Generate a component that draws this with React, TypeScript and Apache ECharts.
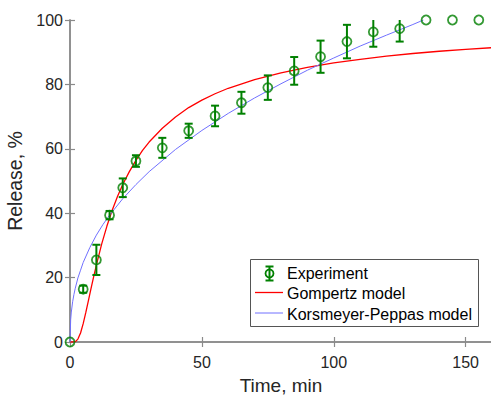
import React, { useEffect, useRef } from "react";
import * as echarts from "echarts";

const expTime = [0, 5, 10, 15, 20, 25, 35, 45, 55, 65, 75, 85, 95, 105, 115, 125, 135, 145, 155];
const expRelease = [0, 16.4, 25.5, 39.4, 47.9, 56.2, 60.3, 65.6, 70.2, 74.3, 79.0, 84.2, 88.6, 93.3, 96.3, 97.3, 100, 100, 100];
const expError = [0, 1.1, 4.7, 1.3, 2.9, 1.8, 3.1, 2.2, 3.2, 3.4, 3.8, 4.3, 5.0, 5.2, 4.6, 4.0, 0, 0, 0];

const gompTime = [0, 1, 2, 3, 4, 5, 6, 7, 8, 9, 10, 12, 14, 16, 18, 20, 22.5, 25, 27.5, 30, 35, 40, 45, 50, 55, 60, 70, 80, 90, 100, 110, 120, 130, 140, 150, 160];
const gompRelease = [0, 0, 0.1, 0.9, 2.8, 5.7, 9.2, 12.9, 16.7, 20.4, 23.9, 30.4, 36.0, 40.9, 45.2, 48.9, 52.9, 56.4, 59.5, 62.1, 66.4, 69.9, 72.8, 75.1, 77.1, 78.8, 81.5, 83.6, 85.3, 86.7, 87.8, 88.8, 89.6, 90.3, 90.9, 91.4];

const kpTime = [0, 0.25, 0.5, 1, 1.5, 2, 3, 4, 5, 7.5, 10, 12.5, 15, 20, 25, 30, 40, 50, 60, 70, 80, 90, 100, 110, 120, 130, 134];
const kpRelease = [0, 6.9, 9.3, 12.5, 14.8, 16.7, 19.9, 22.3, 24.7, 29.3, 33.2, 36.5, 39.4, 44.5, 48.9, 52.9, 59.8, 65.7, 71.0, 75.8, 80.2, 84.4, 88.2, 91.9, 95.3, 98.6, 100];

const xTicks = { min: 0, max: 160, interval: 50 };
const yTicks = { min: 0, max: 100, interval: 20 };

const GREEN = "#008000";
const AXIS = "#262626";
const FRAME = "#8a8a8a";
const FONT = "Liberation Sans, Arial, sans-serif";

export default function App() {
  const ref = useRef<HTMLDivElement>(null);
  useEffect(() => {
    if (!ref.current) return;
    const chart = echarts.init(ref.current, undefined, { renderer: "svg" });
    const expData = expTime.map((t, i) => [t, expRelease[i], expError[i]]);
    const axisCommon = {
      type: "value" as const,
      splitLine: { show: false },
      axisLine: { show: true, lineStyle: { color: FRAME, width: 1.5 } },
      axisTick: { show: true, inside: true, length: 5, lineStyle: { color: FRAME, width: 1.2 } },
    };
    chart.setOption({
      animation: false,
      backgroundColor: "#fff",
      grid: { left: 70, top: 20, width: 422, height: 322, containLabel: false, outerBoundsMode: "none" },
      xAxis: [
        {
          ...axisCommon,
          position: "bottom",
          ...xTicks,
          name: "Time, min",
          nameLocation: "middle",
          nameGap: 34,
          nameTextStyle: { fontSize: 19, lineHeight: 19, color: AXIS, fontFamily: FONT },
          axisLabel: { fontSize: 16, color: AXIS, fontFamily: FONT, margin: 12, showMaxLabel: false },
        },
        {
          ...axisCommon,
          position: "top",
          ...xTicks,
          axisLabel: { show: false },
        },
      ],
      yAxis: [
        {
          ...axisCommon,
          position: "left",
          ...yTicks,
          name: "Release, %",
          nameLocation: "middle",
          nameGap: 35,
          nameTextStyle: { fontSize: 19.5, color: AXIS, fontFamily: FONT },
          axisLabel: { fontSize: 16, color: AXIS, fontFamily: FONT, margin: 7 },
        },
        {
          ...axisCommon,
          position: "right",
          ...yTicks,
          axisLabel: { show: false },
        },
      ],
      series: [
        {
          name: "Gompertz model",
          type: "line",
          data: gompTime.map((t, i) => [t, gompRelease[i]]),
          showSymbol: false,
          symbol: "none",
          smooth: false,
          lineStyle: { color: "#ff0000", width: 1.3 },
          z: 2,
        },
        {
          name: "Korsmeyer-Peppas model",
          type: "line",
          data: kpTime.map((t, i) => [t, kpRelease[i]]),
          showSymbol: false,
          symbol: "none",
          smooth: false,
          lineStyle: { color: "#7070ff", width: 1 },
          z: 2,
        },
        {
          name: "ExperimentErr",
          type: "custom",
          clip: true,
          data: expData,
          z: 3,
          renderItem: (params: any, api: any) => {
            const x = api.value(0);
            const y = api.value(1);
            const e = api.value(2);
            if (!e) return { type: "group", children: [] };
            const top = api.coord([x, y + e]);
            const bot = api.coord([x, y - e]);
            const hw = 4;
            const st = { stroke: GREEN, lineWidth: 2 };
            return {
              type: "group",
              children: [
                { type: "line", shape: { x1: top[0], y1: top[1], x2: bot[0], y2: bot[1] }, style: st },
                { type: "line", shape: { x1: top[0] - hw, y1: top[1], x2: top[0] + hw, y2: top[1] }, style: st },
                { type: "line", shape: { x1: bot[0] - hw, y1: bot[1], x2: bot[0] + hw, y2: bot[1] }, style: st },
              ],
            };
          },
        },
        {
          name: "Experiment",
          type: "scatter",
          clip: false,
          data: expData.map((d) => [d[0], d[1]]),
          symbol: "circle",
          symbolSize: 9,
          itemStyle: { color: "rgba(0,0,0,0)", borderColor: GREEN, borderWidth: 1.8 },
          z: 4,
        },
      ],
      graphic: [
        {
          type: "group",
          z: 100,
          children: [
            {
              type: "rect",
              shape: { x: 250.5, y: 259.5, width: 228, height: 67 },
              style: { fill: "#fff", stroke: "#555", lineWidth: 1 },
            },
            { type: "line", shape: { x1: 269.5, y1: 266.5, x2: 269.5, y2: 280.5 }, style: { stroke: GREEN, lineWidth: 2 } },
            { type: "line", shape: { x1: 265.5, y1: 266.5, x2: 273.5, y2: 266.5 }, style: { stroke: GREEN, lineWidth: 2 } },
            { type: "line", shape: { x1: 265.5, y1: 280.5, x2: 273.5, y2: 280.5 }, style: { stroke: GREEN, lineWidth: 2 } },
            { type: "circle", shape: { cx: 269.5, cy: 273.5, r: 4 }, style: { fill: "none", stroke: GREEN, lineWidth: 1.8 } },
            { type: "line", shape: { x1: 255, y1: 292.5, x2: 283, y2: 292.5 }, style: { stroke: "#ff0000", lineWidth: 1.3 } },
            { type: "line", shape: { x1: 255, y1: 313, x2: 283, y2: 313 }, style: { stroke: "#7070ff", lineWidth: 1 } },
            {
              type: "text",
              x: 287,
              y: 273.5,
              style: { text: "Experiment", fill: "#000", font: `16px ${FONT}`, verticalAlign: "middle" },
            },
            {
              type: "text",
              x: 287,
              y: 293.5,
              style: { text: "Gompertz model", fill: "#000", font: `16px ${FONT}`, verticalAlign: "middle" },
            },
            {
              type: "text",
              x: 287,
              y: 314,
              style: { text: "Korsmeyer-Peppas model", fill: "#000", font: `16px ${FONT}`, verticalAlign: "middle" },
            },
          ],
        },
      ],
    });
    return () => chart.dispose();
  }, []);
  return (
    <div
      ref={ref}
      style={{ position: "absolute", left: 0, top: 0, width: 491, height: 395, background: "#fff" }}
    />
  );
}
